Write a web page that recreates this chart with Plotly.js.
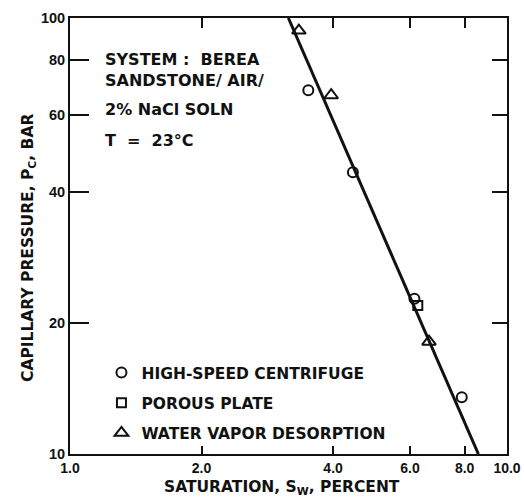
<!DOCTYPE html>
<html>
<head>
<meta charset="utf-8">
<script src="https://cdn.plot.ly/plotly-3.0.1.min.js"></script>
<style>html,body{margin:0;padding:0;background:#fff}#chart{width:524px;height:504px}</style>
</head>
<body>
<div id="chart"></div>
<script>
// Data
const centrifugeSw = [3.51, 4.44, 6.14, 7.88];
const centrifugePc = [68.3, 44.3, 22.7, 13.5];
const plateSw = [6.25];
const platePc = [21.9];
const vaporSw = [3.34, 3.96, 6.63];
const vaporPc = [93.6, 66.5, 18.1];
const fitSw = [3.16, 8.60];
const fitPc = [100, 10];
const xTickVals = [1, 2, 4, 6, 8, 10];
const xTickText = ['1.0', '2.0', '4.0', '6.0', '8.0', '10.0'];
const yTickVals = [10, 20, 40, 60, 80, 100];
const yTickText = ['10', '20', '40', '60', '80', '100'];
const seriesNames = ['HIGH-SPEED CENTRIFUGE', 'POROUS PLATE', 'WATER VAPOR DESORPTION'];
const noteLines = ['SYSTEM :  BEREA', 'SANDSTONE/ AIR/', '2% NaCl SOLN', 'T  =  23°C'];
const xTitle = 'SATURATION, S<sub>W</sub>, PERCENT';
const yTitle = 'CAPILLARY PRESSURE, P<sub>C</sub>, BAR';

const TICKFONT = 'Liberation Sans, Arial, sans-serif';
const TEXTFONT = 'DejaVu Sans, Verdana, sans-serif';
const INK = '#111';

const traces = [
  {x: fitSw, y: fitPc, mode: 'lines', line: {color: INK, width: 3}, showlegend: false, hoverinfo: 'skip'},
  {x: centrifugeSw, y: centrifugePc, mode: 'markers', name: seriesNames[0], legendgroup: 'a',
   marker: {symbol: 'circle-open', size: 10, color: INK, line: {width: 2, color: INK}}},
  {x: plateSw, y: platePc, mode: 'markers', name: seriesNames[1], legendgroup: 'b',
   marker: {symbol: 'square-open', size: 9, color: INK, line: {width: 2, color: INK}}},
  {x: vaporSw, y: vaporPc, mode: 'markers', name: seriesNames[2], legendgroup: 'c',
   marker: {symbol: 'triangle-up-open', size: 12, color: INK, line: {width: 2, color: INK}}},
  {x: [], y: [], xaxis: 'x2', yaxis: 'y2', showlegend: false, hoverinfo: 'skip'}
];

const annotations = noteLines.map((t, i) => ({
  text: '<b>' + t + '</b>', xref: 'paper', yref: 'paper', x: 0.076,
  y: [0.904, 0.856, 0.789, 0.720][i], xanchor: 'left', yanchor: 'middle',
  showarrow: false, font: {family: TEXTFONT, size: 16, color: INK}
}));
annotations.push({
  text: '<b>' + xTitle + '</b>', xref: 'paper', yref: 'paper', x: 0.486, y: -0.079,
  xanchor: 'center', yanchor: 'middle', showarrow: false,
  font: {family: TEXTFONT, size: 15.5, color: INK}
});
annotations.push({
  text: '<b>' + yTitle + '</b>', xref: 'paper', yref: 'paper', x: -0.094, y: 0.4725,
  xanchor: 'center', yanchor: 'middle', textangle: -90, showarrow: false,
  font: {family: TEXTFONT, size: 15.5, color: INK}
});

const layout = {
  width: 524, height: 504,
  margin: {l: 70, r: 17, t: 18, b: 50},
  paper_bgcolor: '#fff', plot_bgcolor: '#fff',
  font: {family: TEXTFONT, color: INK},
  showlegend: true,
  legend: {x: 0.072, y: 0.225, xanchor: 'left', yanchor: 'top', bgcolor: 'rgba(0,0,0,0)',
           tracegroupgap: 7, traceorder: 'grouped',
           font: {family: TEXTFONT, size: 15.5, color: INK, weight: 'bold'}},
  xaxis: {type: 'log', range: [0, 1], tickvals: xTickVals, ticktext: xTickText,
          ticks: 'inside', ticklen: 8, tickwidth: 2, tickcolor: INK,
          showline: true, linewidth: 2, linecolor: INK, showgrid: false, zeroline: false,
          tickfont: {family: TICKFONT, size: 14, color: INK, weight: 'bold'}},
  yaxis: {type: 'log', range: [1, 2], tickvals: yTickVals, ticktext: yTickText,
          ticks: 'inside', ticklen: 19, tickwidth: 2, tickcolor: INK,
          showline: true, linewidth: 2, linecolor: INK, showgrid: false, zeroline: false,
          tickfont: {family: TICKFONT, size: 14.5, color: INK, weight: 'bold'}},
  xaxis2: {type: 'log', range: [0, 1], overlaying: 'x', side: 'top', anchor: 'y2',
           tickvals: xTickVals, showticklabels: false, ticks: 'inside', ticklen: 10, tickwidth: 2, tickcolor: INK,
           showline: true, linewidth: 2, linecolor: INK, showgrid: false, zeroline: false},
  yaxis2: {type: 'log', range: [1, 2], overlaying: 'y', side: 'right', anchor: 'x2',
           tickvals: yTickVals, showticklabels: false, ticks: 'inside', ticklen: 15, tickwidth: 2, tickcolor: INK,
           showline: true, linewidth: 2, linecolor: INK, showgrid: false, zeroline: false},
  annotations: annotations
};

Plotly.newPlot('chart', traces, layout, {displayModeBar: false, staticPlot: true});
</script>
</body>
</html>
